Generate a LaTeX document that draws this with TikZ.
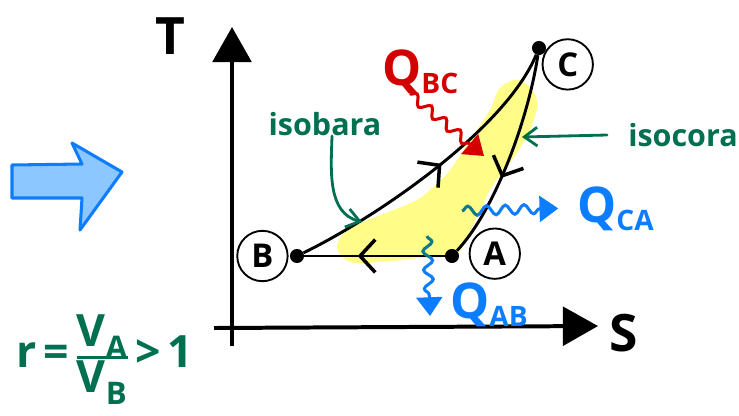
\documentclass[tikz,border=0pt]{standalone}
\usepackage{fontspec}
\setmainfont{Open Sans}
\usepackage{xcolor}
\usepackage{tikz}
\usetikzlibrary{arrows.meta,positioning,decorations.pathmorphing,decorations.markings}
\definecolor{inkgreen}{RGB}{0,112,80}
\definecolor{inkblue}{RGB}{12,125,255}
\definecolor{inkred}{RGB}{212,0,0}
\definecolor{marker}{RGB}{255,252,136}
\definecolor{arrowfill}{RGB}{140,200,255}
\newcommand{\heatsub}[2]{#1\raisebox{-7pt}{\fontsize{24}{24}\selectfont #2}}
\tikzset{
  axisline/.style={line width=3.4pt, -{Triangle[length=30pt,width=33pt]}},
  axislabel/.style={font=\fontsize{44}{44}\selectfont\bfseries, inner sep=0pt},
  statedot/.style={circle, fill=black, inner sep=0pt, minimum size=12pt},
  statering/.style={circle, draw=black, line width=1.6pt, inner sep=0pt, minimum size=43pt, font=\fontsize{28}{28}\selectfont\bfseries},
  pathline/.style={line width=2.5pt, draw=black},
  midtip/.style={postaction={decorate}, decoration={markings, mark=at position #1 with {\arrow{Straight Barb[length=13pt,width=28pt,line width=3pt]}}}},
  heatflow/.style={draw=#1, line width=2.6pt, decorate, decoration={snake, amplitude=4pt, segment length=16pt, post length=12pt}, -{Triangle[length=16pt,width=22pt]}},
  heatlabel/.style={font=\fontsize{42}{42}\selectfont\bfseries, inner sep=0pt},
  note/.style={text=inkgreen, font=\fontsize{26}{26}\selectfont\bfseries, inner sep=0pt},
  notearrow/.style={draw=inkgreen, line width=2.4pt, line cap=round, -{Straight Barb[length=11pt,width=16pt]}},
  bigarrow/.style={draw=inkblue, fill=arrowfill, line width=2.6pt, line join=round}
}

\begin{document}
\begin{tikzpicture}[x=0.03cm, y=-0.03cm]
\useasboundingbox (0,0) rectangle (739,415);
% axes
\coordinate (Tfoot) at (232,346);
\coordinate (Ttip) at (232,27);
\coordinate (Sfoot) at (214,328);
\coordinate (Stip) at (598,326);
\draw[axisline] (Tfoot) -- (Ttip);
\draw[axisline] (Sfoot) -- (Stip);
\node[axislabel] (Tlab) at (170,36) {T};
\node[axislabel] (Slab) at (624,333) {S};

% states of the cycle
\node[statedot] (B) at (297,256) {};
\node[statedot] (A) at (452,256) {};
\node[statedot] (C) at (539,48) {};
\node[statering, left=1pt of B] (Blab) {B};
\node[statering, right=8pt of A, yshift=2pt] (Alab) {A};
\node[statering, right=-4pt of C, yshift=-14pt] (Clab) {C};

% processes
\draw[pathline, midtip=0.62] (A) -- (B);
\draw[pathline, midtip=0.53] (B) .. controls (375,218) and (505,130) .. (C);
\draw[pathline, midtip=0.6] (C) .. controls (528,120) and (495,210) .. (A);

% notes
\node[note] (isobara) at (325,124) {isobara};
\node[note] (isocora) at (683,135) {isocora};
\coordinate (isobaratip) at (362,222);
\coordinate (isocoratip) at (522,137);
\draw[notearrow] ([xshift=6pt]isobara.south) to[out=-92,in=165] (isobaratip);
\draw[notearrow] ([xshift=-18pt]isocora.west) -- (isocoratip);

% heat
\node[heatlabel, text=inkred, anchor=base west] (qbc) at (382,85) {\heatsub{Q}{BC}};
\node[heatlabel, text=inkblue, anchor=base west] (qca) at (577,222) {\heatsub{Q}{CA}};
\node[heatlabel, text=inkblue, anchor=base west] (qab) at (450,318) {\heatsub{Q}{AB}};
\coordinate (qbcend) at (484,156);
\coordinate (qcastart) at (462,211);
\coordinate (qabstart) at (427,236);
\coordinate (qabend) at (430,316);
\draw[heatflow=inkred] ([xshift=-9pt]qbc.south) -- (qbcend);
\draw[heatflow=inkblue] (qcastart) -- ([xshift=-16pt]qca.west);
\draw[heatflow=inkblue] (qabstart) -- (qabend);

% left side
\draw[bigarrow] (12,165) -- (82,164) -- (72,143) -- (122,172) -- (80,230) -- (82,198) -- (12,198) -- cycle;
\node[note, font=\fontsize{38}{40}\selectfont\bfseries, anchor=west] (ratio) at (16,360)
  {r\,=\,{\setlength{\arrayrulewidth}{3pt}\begin{tabular}{@{}c@{}}V\textsubscript{A}\\[-4pt]\hline V\textsubscript{B}\end{tabular}}\,>\,1};

% highlighter
\begin{scope}[blend mode=multiply]
\fill[marker] plot[smooth cycle, tension=0.6] coordinates {(520,80) (537,100) (530,130) (512,160) (493,185) (480,210) (468,235) (455,255) (420,258) (380,262) (350,262) (337,248) (345,232) (363,222) (413,202) (432,188) (450,170) (470,140) (490,110) (500,88)};
\end{scope}
\end{tikzpicture}
\end{document}
